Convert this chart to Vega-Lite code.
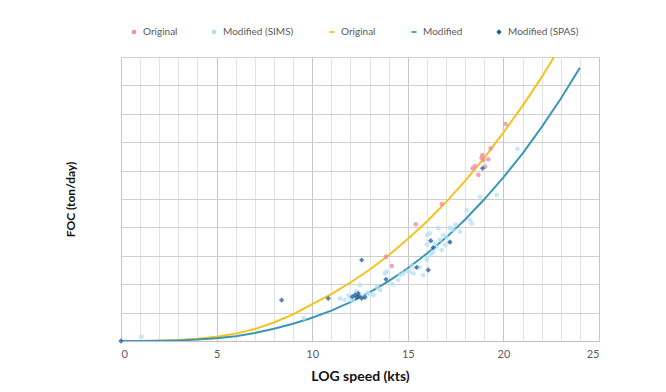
{
  "$schema": "https://vega.github.io/schema/vega-lite/v6.json",
  "width": 478,
  "height": 284,
  "autosize": {"type": "none"},
  "padding": {"left": 121, "top": 57, "right": 67, "bottom": 51},
  "background": "white",
  "config": {
    "view": {"stroke": null},
    "font": "Lato",
    "axis": {"labelFont": "Lato", "titleFont": "Lato"}
  },
  "datasets": {
    "curves": [
      {"series": "o_ln", "speed": 0, "foc": 0},
      {"series": "o_ln", "speed": 1, "foc": 0.02},
      {"series": "o_ln", "speed": 2, "foc": 0.12},
      {"series": "o_ln", "speed": 3, "foc": 0.35},
      {"series": "o_ln", "speed": 4, "foc": 0.8},
      {"series": "o_ln", "speed": 5, "foc": 1.5},
      {"series": "o_ln", "speed": 6, "foc": 2.6},
      {"series": "o_ln", "speed": 7, "foc": 4.2},
      {"series": "o_ln", "speed": 8, "foc": 6.5},
      {"series": "o_ln", "speed": 9, "foc": 9.4},
      {"series": "o_ln", "speed": 10, "foc": 13.0},
      {"series": "o_ln", "speed": 11, "foc": 16.5},
      {"series": "o_ln", "speed": 12, "foc": 20.6},
      {"series": "o_ln", "speed": 13, "foc": 25.1},
      {"series": "o_ln", "speed": 14, "foc": 30.2},
      {"series": "o_ln", "speed": 15, "foc": 35.9},
      {"series": "o_ln", "speed": 16, "foc": 42.1},
      {"series": "o_ln", "speed": 17, "foc": 48.9},
      {"series": "o_ln", "speed": 18, "foc": 56.4},
      {"series": "o_ln", "speed": 19, "foc": 64.5},
      {"series": "o_ln", "speed": 20, "foc": 73.4},
      {"series": "o_ln", "speed": 21, "foc": 82.8},
      {"series": "o_ln", "speed": 22, "foc": 92.9},
      {"series": "o_ln", "speed": 22.65, "foc": 100},
      {"series": "m_ln", "speed": 0, "foc": 0},
      {"series": "m_ln", "speed": 1, "foc": 0.01},
      {"series": "m_ln", "speed": 2, "foc": 0.07},
      {"series": "m_ln", "speed": 3, "foc": 0.22},
      {"series": "m_ln", "speed": 4, "foc": 0.5},
      {"series": "m_ln", "speed": 5, "foc": 0.95},
      {"series": "m_ln", "speed": 6, "foc": 1.7},
      {"series": "m_ln", "speed": 7, "foc": 2.8},
      {"series": "m_ln", "speed": 8, "foc": 4.3},
      {"series": "m_ln", "speed": 9, "foc": 6.1},
      {"series": "m_ln", "speed": 10, "foc": 8.2},
      {"series": "m_ln", "speed": 11, "foc": 10.7},
      {"series": "m_ln", "speed": 12, "foc": 13.7},
      {"series": "m_ln", "speed": 13, "foc": 17.1},
      {"series": "m_ln", "speed": 14, "foc": 21.1},
      {"series": "m_ln", "speed": 15, "foc": 25.6},
      {"series": "m_ln", "speed": 16, "foc": 30.8},
      {"series": "m_ln", "speed": 17, "foc": 36.4},
      {"series": "m_ln", "speed": 18, "foc": 42.8},
      {"series": "m_ln", "speed": 19, "foc": 49.9},
      {"series": "m_ln", "speed": 20, "foc": 57.6},
      {"series": "m_ln", "speed": 21, "foc": 66.0},
      {"series": "m_ln", "speed": 22, "foc": 75.3},
      {"series": "m_ln", "speed": 23, "foc": 85.3},
      {"series": "m_ln", "speed": 24, "foc": 96.2}
    ],
    "points": [
      {"series": "sims", "speed": 1.08, "foc": 1.5},
      {"series": "sims", "speed": 9.55, "foc": 8},
      {"series": "sims", "speed": 11.45, "foc": 15},
      {"series": "sims", "speed": 11.7, "foc": 14.5},
      {"series": "sims", "speed": 12.0, "foc": 15.3},
      {"series": "sims", "speed": 11.9, "foc": 16},
      {"series": "sims", "speed": 12.1, "foc": 14.2},
      {"series": "sims", "speed": 12.5, "foc": 19.7},
      {"series": "sims", "speed": 12.7, "foc": 16},
      {"series": "sims", "speed": 12.9, "foc": 17},
      {"series": "sims", "speed": 13.2, "foc": 16.2},
      {"series": "sims", "speed": 13.55, "foc": 18},
      {"series": "sims", "speed": 13.8, "foc": 23.8},
      {"series": "sims", "speed": 13.9, "foc": 24.4},
      {"series": "sims", "speed": 13.4, "foc": 19},
      {"series": "sims", "speed": 14.2, "foc": 20},
      {"series": "sims", "speed": 14.6, "foc": 23.2},
      {"series": "sims", "speed": 14.77, "foc": 23.8},
      {"series": "sims", "speed": 15.0, "foc": 24.5},
      {"series": "sims", "speed": 15.1, "foc": 24.4},
      {"series": "sims", "speed": 15.3, "foc": 23.8},
      {"series": "sims", "speed": 15.6, "foc": 26},
      {"series": "sims", "speed": 15.8, "foc": 23.2},
      {"series": "sims", "speed": 15.99, "foc": 28.5},
      {"series": "sims", "speed": 16.0, "foc": 29.1},
      {"series": "sims", "speed": 16.0, "foc": 37.3},
      {"series": "sims", "speed": 16.16, "foc": 37.9},
      {"series": "sims", "speed": 16.2, "foc": 30.5},
      {"series": "sims", "speed": 16.33, "foc": 31.4},
      {"series": "sims", "speed": 16.4, "foc": 34.5},
      {"series": "sims", "speed": 16.51, "foc": 33.2},
      {"series": "sims", "speed": 16.6, "foc": 39.7},
      {"series": "sims", "speed": 16.68, "foc": 35.6},
      {"series": "sims", "speed": 16.77, "foc": 32},
      {"series": "sims", "speed": 16.86, "foc": 37.3},
      {"series": "sims", "speed": 16.95, "foc": 33.8},
      {"series": "sims", "speed": 17.0, "foc": 36.5},
      {"series": "sims", "speed": 17.2, "foc": 35},
      {"series": "sims", "speed": 17.2, "foc": 39.8},
      {"series": "sims", "speed": 17.38, "foc": 39.1},
      {"series": "sims", "speed": 17.5, "foc": 41},
      {"series": "sims", "speed": 17.73, "foc": 38.5},
      {"series": "sims", "speed": 18.08, "foc": 46.1},
      {"series": "sims", "speed": 18.25, "foc": 42.6},
      {"series": "sims", "speed": 18.34, "foc": 41.4},
      {"series": "sims", "speed": 18.78, "foc": 50.8},
      {"series": "sims", "speed": 19.65, "foc": 51.4},
      {"series": "sims", "speed": 20.73, "foc": 67.6},
      {"series": "sims", "speed": 12.3, "foc": 17.5},
      {"series": "sims", "speed": 12.6, "foc": 15.5},
      {"series": "sims", "speed": 13.0, "foc": 16.5},
      {"series": "sims", "speed": 14.5, "foc": 21.5},
      {"series": "sims", "speed": 15.2, "foc": 26.5},
      {"series": "sims", "speed": 16.0, "foc": 34},
      {"series": "o_pt", "speed": 20.11, "foc": 76.4},
      {"series": "o_pt", "speed": 19.33, "foc": 67.8},
      {"series": "o_pt", "speed": 18.86, "foc": 64.5},
      {"series": "o_pt", "speed": 19.21, "foc": 64.0},
      {"series": "o_pt", "speed": 18.95, "foc": 63.7},
      {"series": "o_pt", "speed": 18.51, "foc": 61.6},
      {"series": "o_pt", "speed": 18.39, "foc": 60.8},
      {"series": "o_pt", "speed": 19.04, "foc": 61.4},
      {"series": "o_pt", "speed": 18.69, "foc": 58.5},
      {"series": "o_pt", "speed": 18.9, "foc": 65.5},
      {"series": "o_pt", "speed": 16.77, "foc": 48.2},
      {"series": "o_pt", "speed": 15.42, "foc": 41.1},
      {"series": "o_pt", "speed": 13.86, "foc": 29.7},
      {"series": "o_pt", "speed": 14.16, "foc": 26.4},
      {"series": "spas", "speed": 0, "foc": 0},
      {"series": "spas", "speed": 8.4, "foc": 14.4},
      {"series": "spas", "speed": 10.84, "foc": 15.0},
      {"series": "spas", "speed": 12.59, "foc": 28.5},
      {"series": "spas", "speed": 12.41, "foc": 16.8},
      {"series": "spas", "speed": 12.24, "foc": 16.2},
      {"series": "spas", "speed": 12.59, "foc": 15.0},
      {"series": "spas", "speed": 12.33, "foc": 15.4},
      {"series": "spas", "speed": 12.76, "foc": 15.4},
      {"series": "spas", "speed": 12.45, "foc": 15.8},
      {"series": "spas", "speed": 12.1, "foc": 15.6},
      {"series": "spas", "speed": 13.86, "foc": 21.7},
      {"series": "spas", "speed": 15.46, "foc": 25.9},
      {"series": "spas", "speed": 16.07, "foc": 25.0},
      {"series": "spas", "speed": 16.2, "foc": 35.3},
      {"series": "spas", "speed": 16.33, "foc": 32.9},
      {"series": "spas", "speed": 17.2, "foc": 34.8},
      {"series": "spas", "speed": 18.91, "foc": 60.8}
    ]
  },
  "encoding": {
    "x": {
      "field": "speed",
      "type": "quantitative",
      "scale": {"domain": [0, 25], "nice": false},
      "axis": {
        "values": [0,1,2,3,4,5,6,7,8,9,10,11,12,13,14,15,16,17,18,19,20,21,22,23,24,25],
        "labelExpr": "datum.value % 5 === 0 ? datum.label : ''",
        "labelOverlap": false,
        "ticks": false,
        "domain": true,
        "domainColor": "#bfbfbf",
        "grid": true,
        "gridColor": {"condition": {"test": "datum.value % 5 === 0", "value": "#c6c6c6"}, "value": "#e2e2e2"},
        "labelFontSize": 11,
        "labelColor": "#595959",
        "labelPadding": 7,
        "title": "LOG speed (kts)",
        "titleFontSize": 14,
        "titleFontWeight": "bold",
        "titleColor": "#111111",
        "titlePadding": 10
      }
    },
    "y": {
      "field": "foc",
      "type": "quantitative",
      "scale": {"domain": [0, 100], "nice": false},
      "axis": {
        "values": [0,10,20,30,40,50,60,70,80,90,100],
        "labels": false,
        "ticks": false,
        "domain": false,
        "grid": true,
        "gridColor": "#cfcfcf",
        "title": "FOC (ton/day)",
        "titleFontSize": 12,
        "titleFontWeight": "bold",
        "titleColor": "#111111",
        "titlePadding": 44
      }
    }
  },
  "layer": [
    {
      "data": {"name": "curves"},
      "mark": {"type": "line", "strokeWidth": 2, "clip": true},
      "encoding": {
        "detail": {"field": "series"},
        "color": {
          "field": "series",
          "type": "nominal",
          "scale": {
            "domain": ["o_pt", "sims", "o_ln", "m_ln", "spas"],
            "range": ["#ee8aa2", "#b5e0f5", "#f7c21b", "#3b97b5", "#1f5a9e"]
          },
          "legend": {
            "title": null,
            "orient": "none",
            "legendX": 8,
            "legendY": -30,
            "direction": "horizontal",
            "columns": 5,
            "columnPadding": 31,
            "labelFont": "Lato",
            "labelFontSize": 10,
            "labelColor": "#595959",
            "labelOffset": 4,
            "symbolSize": 225,
            "labelExpr": "{'o_pt':'Original','sims':'Modified (SIMS)','o_ln':'Original','m_ln':'Modified','spas':'Modified (SPAS)'}[datum.value]",
            "encode": {
              "symbols": {
                "update": {
                  "fill": {"signal": "scale('color', datum.value)"},
                  "stroke": {"signal": "scale('color', datum.value)"},
                  "strokeWidth": {"signal": "datum.value === 'o_ln' || datum.value === 'm_ln' ? 1.8 : 0"},
                  "size": {"signal": "datum.value === 'o_ln' || datum.value === 'm_ln' ? 225 : 18"},
                  "opacity": {"value": 1}
                }
              }
            }
          }
        },
        "shape": {
          "field": "series",
          "type": "nominal",
          "scale": {
            "domain": ["o_pt", "sims", "o_ln", "m_ln", "spas"],
            "range": ["circle", "circle", "stroke", "stroke", "diamond"]
          }
        }
      }
    },
    {
      "data": {"name": "points"},
      "mark": {"type": "point", "filled": true, "opacity": 0.75},
      "encoding": {
        "color": {"field": "series", "type": "nominal"},
        "shape": {"field": "series", "type": "nominal"},
        "size": {
          "field": "series",
          "type": "nominal",
          "scale": {"domain": ["o_pt", "sims", "o_ln", "m_ln", "spas"], "range": [22, 28, 20, 20, 36]},
          "legend": null
        }
      }
    }
  ]
}
